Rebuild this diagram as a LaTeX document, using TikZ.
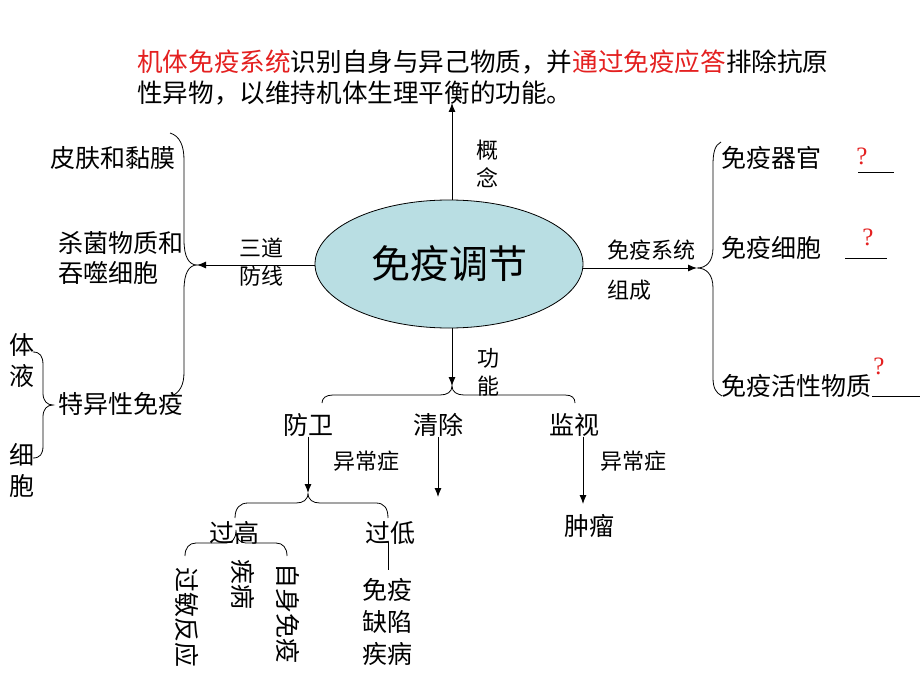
\documentclass[tikz,border=0pt]{standalone}
\usepackage{fontspec}
\setmainfont{Noto Sans CJK SC}
\newfontfamily\qfont{Liberation Serif}
\usetikzlibrary{shapes.geometric,arrows.meta}
\definecolor{ellfill}{RGB}{185,222,227}
\definecolor{redtxt}{RGB}{228,32,32}
\tikzset{
  txtbig/.style={inner sep=0pt, font=\fontsize{25}{30}\selectfont},
  txttop/.style={inner sep=0pt, font=\fontsize{25.6}{30}\selectfont},
  txtsmall/.style={inner sep=0pt, font=\fontsize{22}{26}\selectfont},
  arr/.style={line width=0.9pt, -{Latex[length=9pt,width=7pt]}},
  brace/.style={line width=0.8pt},
  qmark/.style={inner sep=0pt, text=redtxt, font=\qfont\fontsize{25}{28}\selectfont},
  blank/.style={line width=0.8pt},
}
\begin{document}
\begin{tikzpicture}[x=1pt,y=-1pt]
\useasboundingbox (0,0) rectangle (920,690);
\fill[white] (0,0) rectangle (920,690);

% top concept text
\node[txttop, anchor=west] (topa) at (137,62) {\textcolor{redtxt}{机体免疫系统}识别自身与异己物质，并\textcolor{redtxt}{通过免疫应答}排除抗原};
\node[txttop, anchor=west] (topb) at (137,93) {性异物，以维持机体生理平衡的功能。};

% central ellipse
\node[ellipse, draw, line width=0.8pt, fill=ellfill, minimum width=268pt, minimum height=128pt, inner sep=0pt, font=\fontsize{39}{44}\selectfont] (core) at (449,264) {免疫调节};

% up arrow (concept)
\coordinate (topTip) at (452,103);
\draw[arr] (core.north -| topTip) -- (topTip);
\node[txtsmall] (lblA1) at (487,150) {概};
\node[txtsmall] (lblA2) at (487,178) {念};

% left arrow (three lines of defense)
\coordinate (cuspL) at (197,265);
\draw[arr] (core.west |- cuspL) -- (cuspL);
\node[txtsmall] (lblL1) at (261,248) {三道};
\node[txtsmall] (lblL2) at (261,276) {防线};
\draw[brace] (170,133) .. controls (180,136) and (184,146) .. (184,160) -- (184,240)
  .. controls (184,257) and (189,265) .. (cuspL)
  .. controls (189,265) and (184,273) .. (184,290) -- (184,372)
  .. controls (184,385) and (180,392) .. (172,396);
\node[txtbig, anchor=west] (skin) at (50,158) {皮肤和黏膜};
\node[txtbig, anchor=west] (chem1) at (58,243) {杀菌物质和};
\node[txtbig, anchor=west] (chem2) at (58,273) {吞噬细胞};
\node[txtbig, anchor=west] (spec) at (58,404) {特异性免疫};

% humoral / cellular brace
\draw[brace] (33,352) .. controls (40,352) and (43,356) .. (43,365) -- (43,393)
  .. controls (43,401) and (47,405) .. (53,405)
  .. controls (47,405) and (43,409) .. (43,417) -- (43,446)
  .. controls (43,454) and (40,458) .. (33,458);
\node[txtbig] (ti) at (22,345) {体};
\node[txtbig] (ye) at (22,376) {液};
\node[txtbig] (xi) at (22,455) {细};
\node[txtbig] (bao) at (22,486) {胞};

% right arrow (composition)
\coordinate (cuspR) at (697,268);
\draw[arr] (core.east |- cuspR) -- (cuspR);
\node[txtsmall, anchor=west] (lblR1) at (607,250) {免疫系统};
\node[txtsmall, anchor=west] (lblR2) at (607,290) {组成};
\draw[brace] (721,142) .. controls (715,145) and (713,152) .. (713,165) -- (713,248)
  .. controls (713,262) and (706,268) .. (cuspR)
  .. controls (706,268) and (713,274) .. (713,288) -- (713,378)
  .. controls (713,388) and (716,393) .. (722,396);
\node[txtbig, anchor=west] (organ) at (721,158) {免疫器官};
\node[txtbig, anchor=west] (cell) at (721,248) {免疫细胞};
\node[txtbig, anchor=west] (active) at (721,386) {免疫活性物质};
\node[qmark] (q1) at (862,156) {?};
\draw[blank] (858,172) -- (894,172);
\node[qmark] (q2) at (868,237) {?};
\draw[blank] (845,258) -- (887,258);
\node[qmark] (q3) at (879,366) {?};
\draw[blank] (872,396) -- (920,396);

% down arrow (function)
\coordinate (cuspD) at (452,386);
\draw[arr] (core.south -| cuspD) -- (cuspD);
\node[txtsmall] (lblD1) at (488,358) {功};
\node[txtsmall] (lblD2) at (488,386) {能};
\draw[brace] (322,403) .. controls (322,398) and (326,395) .. (333,395) -- (440,395)
  .. controls (447,395) and (452,392) .. (cuspD)
  .. controls (452,392) and (457,395) .. (464,395) -- (565,395)
  .. controls (572,395) and (575,398) .. (575,403);
\node[txtbig] (fangwei) at (308,425) {防卫};
\node[txtbig] (qingchu) at (438,425) {清除};
\node[txtbig] (jianshi) at (574,425) {监视};

% defense branch
\coordinate (cuspF) at (308,493);
\draw[arr] (fangwei.south -| cuspF) -- (cuspF);
\node[txtsmall, anchor=west] (abn1) at (333,461) {异常症};
\coordinate (qcEnd) at (438,497);
\draw[arr] (qingchu.south -| qcEnd) -- (qcEnd);
\coordinate (jsEnd) at (583,504);
\draw[arr] (jianshi.south -| jsEnd) -- (jsEnd);
\node[txtsmall, anchor=west] (abn2) at (600,461) {异常症};
\node[txtbig] (tumor) at (589,526) {肿瘤};

\draw[brace] (235,518) .. controls (235,508) and (240,503) .. (248,503) -- (296,503)
  .. controls (303,503) and (308,500) .. (cuspF)
  .. controls (308,500) and (313,503) .. (320,503) -- (376,503)
  .. controls (384,503) and (388,508) .. (388,518);
\node[txtbig] (gaogao) at (234,533) {过高};
\node[txtbig] (guodi) at (390,533) {过低};

% too high brace
\draw[brace] (185,556) .. controls (185,548) and (189,543) .. (196,543) -- (226,543)
  .. controls (232,543) and (236,539) .. (236,530)
  .. controls (236,539) and (240,543) .. (246,543) -- (276,543)
  .. controls (283,543) and (287,548) .. (287,556);
\node[txtbig, rotate=-90] (allergy) at (187,617) {过敏反应};
\node[txtbig, rotate=-90] (disease) at (243,584) {疾病};
\node[txtbig, rotate=-90] (autoimm) at (288,613) {自身免疫};

% too low
\draw[brace] (388,542) -- (388,570);
\node[txtbig] (def1) at (387,590) {免疫};
\node[txtbig] (def2) at (387,622) {缺陷};
\node[txtbig] (def3) at (387,654) {疾病};
\end{tikzpicture}
\end{document}
